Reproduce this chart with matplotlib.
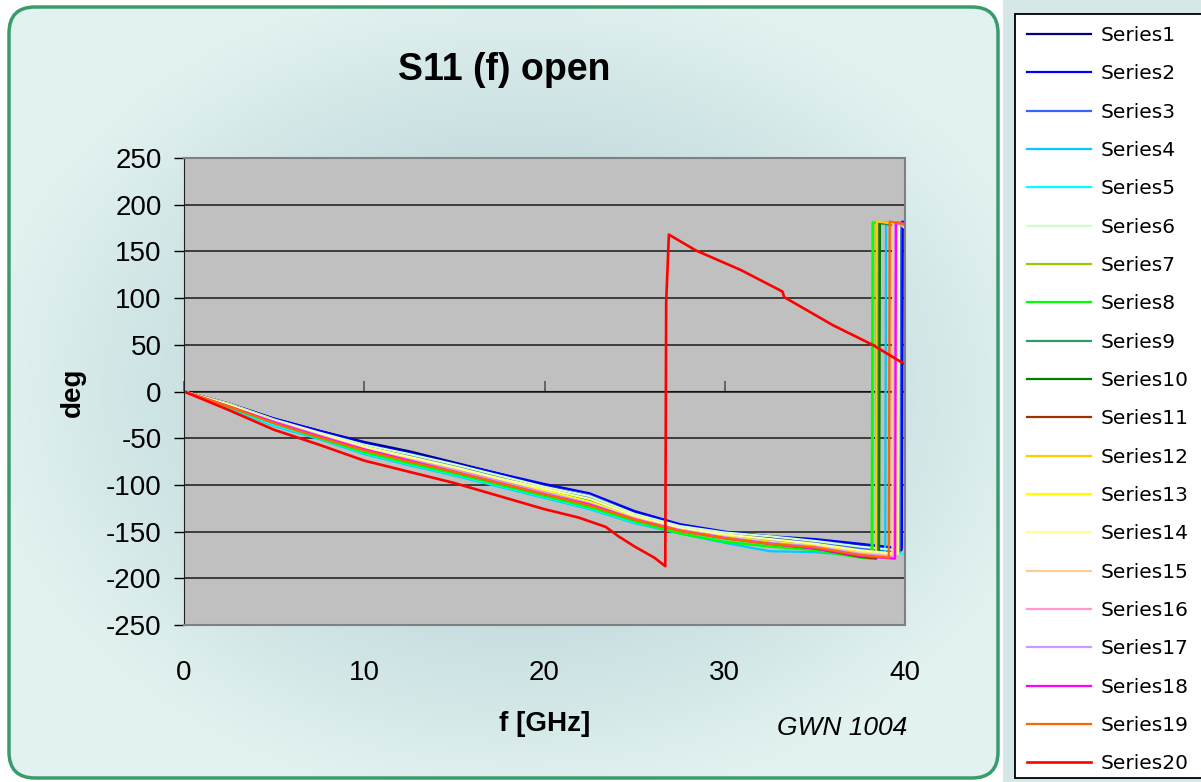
import numpy as np
import matplotlib.pyplot as plt
from matplotlib.patches import FancyBboxPatch, Rectangle

plt.rcParams["font.family"] = ["Liberation Sans", "DejaVu Sans"]
plt.rcParams["axes.unicode_minus"] = False

title = "S11 (f) open"
x_label = "f [GHz]"
y_label = "deg"
note = "GWN 1004"
x_ticks = [0, 10, 20, 30, 40]
y_ticks = [-250, -200, -150, -100, -50, 0, 50, 100, 150, 200, 250]

# Frequency grid (GHz) for the descending part of series 1..19.
freq_grid = [0, 2.5, 5, 7.5, 10, 12.5, 15, 17.5, 20, 22.5, 25, 27.5, 30, 32.5, 35, 37.5]

series1 = [0, -13, -29, -42, -54, -64, -76, -88, -101, -112, -130, -144, -152, -157, -160, -165]
series2 = [0, -13, -29, -42, -55, -66, -77, -88, -99, -109, -128, -142, -150, -155, -158, -163]
series3 = [0, -14, -31, -45, -58, -69, -80, -91, -103, -114, -132, -145, -153, -158, -162, -168]
series4 = [0, -18, -37, -51, -67, -79, -90, -102, -114, -126, -141, -152, -162, -171, -172, -176]
series5 = [0, -17, -36, -50, -66, -78, -89, -101, -113, -125, -140, -151, -159, -166, -168, -172]
series6 = [0, -13, -30, -44, -57, -67, -78, -90, -102, -112, -131, -144, -151, -155, -160, -166]
series7 = [0, -16, -34, -49, -64, -76, -87, -99, -111, -123, -138, -150, -158, -164, -169, -175]
series8 = [0, -17, -34, -50, -65, -77, -88, -100, -112, -124, -139, -152, -161, -166, -170, -178]
series9 = [0, -14, -31, -46, -59, -70, -81, -93, -105, -116, -134, -147, -155, -161, -165, -172]
series10 = [0, -15, -32, -46, -60, -71, -82, -94, -106, -117, -135, -148, -156, -162, -167, -174]
series11 = [0, -16, -33, -48, -62, -74, -85, -97, -109, -121, -137, -149, -157, -163, -168, -177]
series12 = [0, -15, -32, -47, -61, -72, -83, -95, -107, -119, -136, -148, -156, -162, -166, -174]
series13 = [0, -15, -32, -46, -60, -71, -82, -94, -106, -118, -135, -147, -155, -161, -165, -172]
series14 = [0, -14, -31, -45, -59, -70, -81, -93, -104, -115, -133, -146, -153, -158, -163, -170]
series15 = [0, -16, -33, -47, -61, -73, -84, -96, -108, -120, -136, -148, -156, -162, -166, -173]
series16 = [0, -16, -33, -48, -63, -74, -85, -97, -109, -121, -137, -149, -157, -163, -167, -175]
series17 = [0, -16, -32, -47, -62, -73, -84, -96, -108, -120, -136, -148, -156, -162, -166, -174]
series18 = [0, -16, -33, -48, -62, -74, -86, -98, -110, -121, -137, -149, -157, -163, -168, -176]
series19 = [0, -16, -34, -49, -63, -75, -86, -98, -110, -122, -137, -149, -157, -163, -167, -175]

# Phase wrap near 40 GHz: frequency, value just before, value just after, value at 40 GHz.
wrap_freq = [39.80, 39.82, 39.70, 38.90, None, 39.60, 38.20, 38.15, 38.50, 38.56,
             38.40, 38.39, 39.50, 39.62, 39.30, 39.45, 39.40, 39.45, 39.10]
wrap_low = [-170, -168, -172, -177, None, -170, -177, -179, -175, -177,
            -179, -177, -175, -174, -176, -178, -177, -179, -178]
wrap_high = [181, 182, 181, 181, None, 180, 181, 181, 180, 181,
             181, 182, 180, 181, 181, 181, 180, 181, 182]
end_value = [178, 176, 177, 176, -174, 176, 178, 179, 177, 178,
             179, 178, 177, 175, 178, 179, 177, 180, 179]

# Series20 has its own wrap around 27 GHz.
series20_freq = [0, 2.5, 5, 7.5, 10, 12.5, 15, 17.5, 20, 21.9, 23.4, 24.1, 25, 26.1, 26.7,
                 26.75, 26.9, 28.4, 30.9, 33.2, 33.3, 36, 38.2, 40]
series20 = [0, -20, -41, -57, -74, -86, -98, -112, -126, -135, -145, -155, -166, -178, -187,
            95, 168, 151, 130, 107, 101, 71, 50, 29]

series_colors = ["#000080", "#0000ff", "#3366ff", "#00ccff", "#00ffff", "#ccffcc", "#99cc00",
                 "#00ff00", "#339966", "#008000", "#993300", "#ffcc00", "#ffff00", "#ffff99",
                 "#ffcc99", "#ff99cc", "#cc99ff", "#ff00ff", "#ff6600", "#ff0000"]
main_series = [series1, series2, series3, series4, series5, series6, series7, series8,
               series9, series10, series11, series12, series13, series14, series15,
               series16, series17, series18, series19]

W, H = 1201, 782
fig = plt.figure(figsize=(W / 100, H / 100), dpi=100, facecolor="white")

# Background: rounded chart box with soft radial shading, legend strip on the right.
bg = fig.add_axes([0, 0, 1, 1], zorder=-10)
bg.set_xlim(0, W)
bg.set_ylim(H, 0)
bg.axis("off")
bg.add_patch(Rectangle((1003, 0), W - 1003, H, facecolor="#d5e7e7", edgecolor="none"))
bg.add_patch(Rectangle((1014.5, 14), 220, 764, facecolor="white", edgecolor="black",
                       linewidth=1.3, zorder=2))
yy, xx = np.mgrid[0:H, 0:1000]
r = np.sqrt(((xx - 520) / 520.0) ** 2 + ((yy - 390) / 400.0) ** 2)
t = np.clip((r - 0.45) / 0.6, 0, 1)
dark = np.array([0.75, 0.85, 0.86])
light = np.array([0.89, 0.95, 0.945])
img = dark + (light - dark) * t[..., None]
box = FancyBboxPatch((9, 7), 989, 771, boxstyle="round,pad=0,rounding_size=26",
                     facecolor="none", edgecolor="#3a9c6c", linewidth=2.5, zorder=3)
bg.add_patch(box)
im = bg.imshow(img, extent=(0, 1000, H, 0), aspect="auto", zorder=1)
im.set_clip_path(box)

ax = fig.add_axes([184 / W, 1 - 625 / H, (905 - 184) / W, (625 - 158) / H])
ax.set_facecolor("#c0c0c0")

for i, vals in enumerate(main_series):
    f = list(freq_grid)
    v = list(vals)
    if wrap_freq[i] is not None:
        f += [wrap_freq[i], wrap_freq[i] + 0.05]
        v += [wrap_low[i], wrap_high[i]]
    f.append(40)
    v.append(end_value[i])
    ax.plot(f, v, color=series_colors[i], linewidth=1.6, label="Series%d" % (i + 1))
ax.plot(series20_freq, series20, color=series_colors[19], linewidth=1.9, label="Series20")

ax.set_xlim(0, 40)
ax.set_ylim(-250, 250)
ax.set_yticks(y_ticks)
ax.set_xticks(x_ticks)
ax.yaxis.grid(True, color="#1a1a1a", linewidth=1.1)
ax.set_axisbelow(True)
ax.tick_params(axis="y", direction="out", length=7, width=1, pad=9, labelsize=20)
ax.tick_params(axis="x", length=0, pad=25, labelsize=20)
for side in ["top", "right", "bottom"]:
    ax.spines[side].set_color("#808080")
    ax.spines[side].set_linewidth(1.5)
ax.spines["left"].set_color("#202020")

# Category axis crossing at 0 deg, with its tick marks.
sec = ax.secondary_xaxis(0.5)
sec.set_xticks(x_ticks)
sec.set_xticklabels([])
sec.tick_params(direction="out", length=7, width=1.2, color="#555555")
sec.spines["bottom"].set_color("#1a1a1a")

fig.text(504 / W, 1 - 70 / H, title, ha="center", va="center", fontsize=27, fontweight="bold")
fig.text(545 / W, 1 - 724 / H, x_label, ha="center", va="center", fontsize=20, fontweight="bold")
fig.text(73 / W, 1 - 392 / H, y_label, ha="center", va="center", fontsize=20,
         fontweight="bold", rotation=90)
fig.text(907 / W, 1 - 728 / H, note, ha="right", va="center", fontsize=19, style="italic")

handles, labels = ax.get_legend_handles_labels()
leg = fig.legend(handles, labels, loc="upper left", bbox_to_anchor=(1014.5 / W, 1 - 14 / H),
                 frameon=False, borderaxespad=0, handlelength=3.2, handletextpad=0.5,
                 labelspacing=0.96, borderpad=0.6,
                 prop={"family": "DejaVu Sans", "size": 14.5})

fig.savefig("out.png", dpi=100)
